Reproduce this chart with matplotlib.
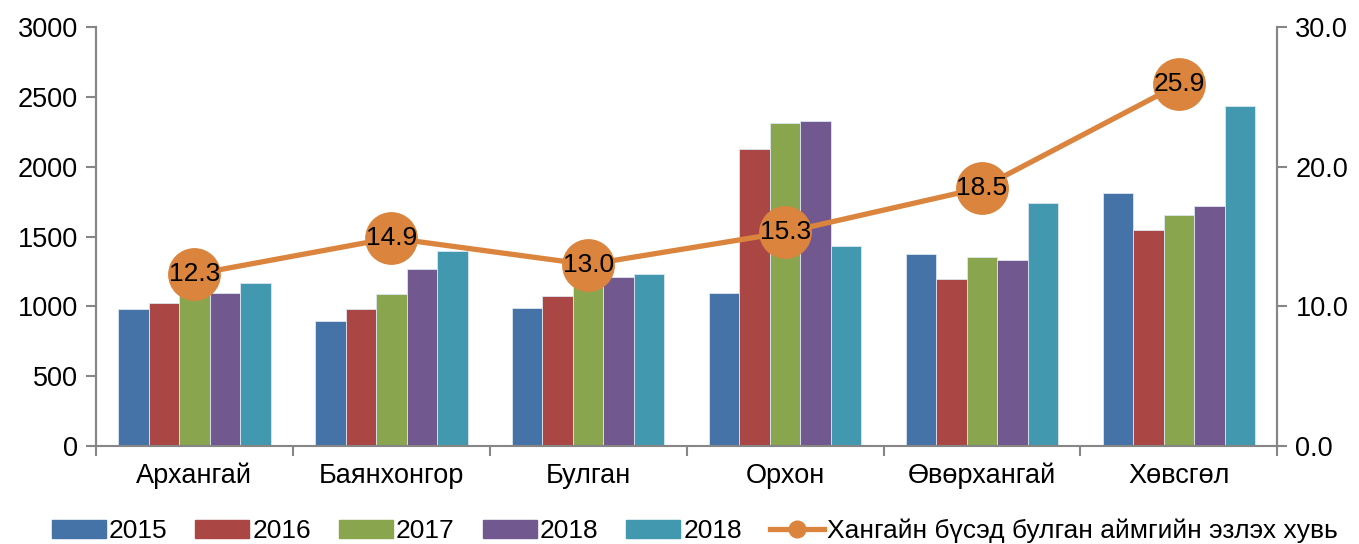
import matplotlib
matplotlib.use("Agg")
import matplotlib.pyplot as plt
import numpy as np
from matplotlib.lines import Line2D
from matplotlib.patches import Patch

plt.rcParams['font.family'] = ['Liberation Sans', 'DejaVu Sans']

categories = ["Архангай", "Баянхонгор", "Булган", "Орхон", "Өвөрхангай", "Хөвсгөл"]
series_labels = ["2015", "2016", "2017", "2018", "2018"]
v2015 = [981, 895, 990, 1093, 1375, 1814]
v2016 = [1022, 981, 1076, 2131, 1200, 1544]
v2017 = [1110, 1086, 1170, 2315, 1351, 1654]
v2018a = [1095, 1270, 1208, 2329, 1334, 1723]
v2018b = [1165, 1396, 1229, 1434, 1740, 2439]
share = [12.3, 14.9, 13.0, 15.3, 18.5, 25.9]
line_label = "Хангайн бүсэд булган аймгийн эзлэх хувь"

colors = ["#4572A7", "#AA4643", "#89A54E", "#71588F", "#4198AF"]
orange = "#DB843D"
spine_c = "#868686"

fig = plt.figure(figsize=(13.59, 5.44), dpi=100)
ax = fig.add_axes([0.0706, 0.180, 0.8693, 0.770])
ax2 = ax.twinx()

x = np.arange(len(categories))
bw = 0.155
series = [v2015, v2016, v2017, v2018a, v2018b]
for i, (vals, c) in enumerate(zip(series, colors)):
    ax.bar(x + (i - 2) * bw, vals, width=bw, color=c, edgecolor="#DDE6F0", linewidth=0.6, zorder=2)

ax.set_xlim(-0.5, len(categories) - 0.5)
ax.set_ylim(0, 3000)
ax.set_yticks(np.arange(0, 3001, 500))
ax.set_xticks(x)
ax.set_xticklabels(categories, fontsize=19.5)
ax.set_xticks(np.arange(-0.5, len(categories) + 0.5, 1), minor=True)
ax.tick_params(axis='x', which='major', length=0, pad=12)
ax.tick_params(axis='x', which='minor', length=7, color=spine_c, width=1.5, direction='out')
ax.tick_params(axis='y', labelsize=19.5, length=7, color=spine_c, width=1.5, direction='out', pad=6)

ax2.set_ylim(0, 30)
ax2.set_yticks(np.arange(0, 30.1, 10))
ax2.set_yticklabels([f"{v:.1f}" for v in np.arange(0, 30.1, 10)])
ax2.tick_params(axis='y', labelsize=19.5, length=7, color=spine_c, width=1.5, direction='out', pad=6)

for a in (ax, ax2):
    a.spines['top'].set_visible(False)
    for s in ('left', 'right', 'bottom'):
        a.spines[s].set_color(spine_c)
        a.spines[s].set_linewidth(1.5)
ax2.spines['bottom'].set_visible(False)

ax2.plot(x, share, color=orange, linewidth=3.8, marker='o', markersize=37,
         markerfacecolor=orange, markeredgecolor=orange, zorder=3)
for xi, v in zip(x, share):
    ax2.text(xi, v, f"{v:.1f}", ha='center', va='center', fontsize=19, color='black', zorder=4)

handles = [Patch(facecolor=c, edgecolor=c) for c in colors]
handles.append(Line2D([0], [0], color=orange, linewidth=3.8, marker='o', markersize=12,
                      markerfacecolor=orange, markeredgecolor=orange))
fig.legend(handles, series_labels + [line_label], loc='center left', bbox_to_anchor=(0.038, 0.024),
           ncol=6, frameon=False, fontsize=19, handlelength=2.05, handleheight=0.64,
           columnspacing=1.05, handletextpad=0.12, borderaxespad=0, borderpad=0)

fig.savefig("out.png", dpi=100)
